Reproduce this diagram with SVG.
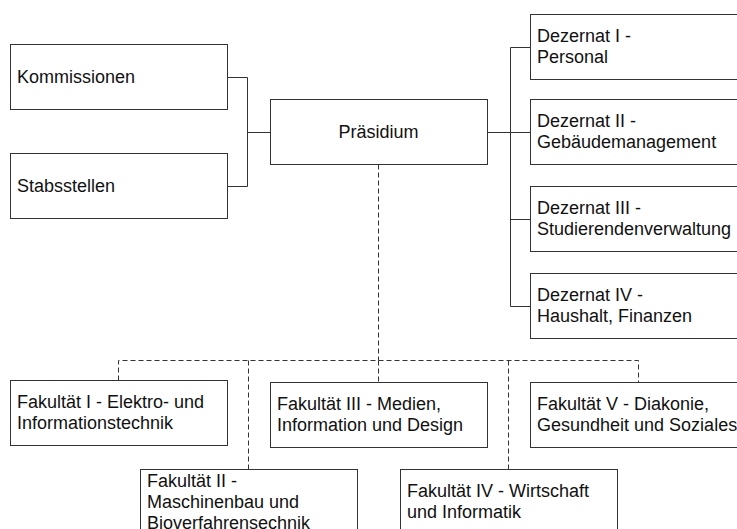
<svg xmlns="http://www.w3.org/2000/svg" width="737" height="529" viewBox="0 0 737 529">
<style>
.box{fill:#fff;stroke:#333;stroke-width:1}
.t{font-family:"Liberation Sans",Arial,sans-serif;font-size:18px;fill:#111}
.c{fill:none;stroke:#333;stroke-width:1}
.d{fill:none;stroke:#333;stroke-width:1;stroke-dasharray:5,3}
</style>
<rect width="737" height="529" fill="#fff"/>
<g id="connectors">
<path class="c" d="M227.5,77.5H247.5V186.5H227.5M247.5,132.5H270.5"/>
<path class="c" d="M487.5,132.5H530.5M530.5,47.5H510.5V306.5H530.5M510.5,219.5H530.5"/>
<path class="d" d="M378.5,164.5V360.5"/>
<path class="d" d="M118.5,380.5V360.5H638.5V382.5"/>
<path class="d" d="M248.5,360.5V469.5"/>
<path class="d" d="M378.5,360.5V382.5"/>
<path class="d" d="M508.5,360.5V469.5"/>
</g>
<g id="kommissionen"><rect class="box" x="10.5" y="44.5" width="217" height="65"/><text class="t" x="17" y="83">Kommissionen</text></g>
<g id="stabsstellen"><rect class="box" x="10.5" y="153.5" width="217" height="65"/><text class="t" x="17" y="192">Stabsstellen</text></g>
<g id="praesidium"><rect class="box" x="270.5" y="99.5" width="217" height="65"/><text class="t" x="378.5" y="138" text-anchor="middle">Präsidium</text></g>
<g id="dezernat1"><rect class="box" x="530.5" y="14.5" width="217" height="65"/><text class="t" x="537" y="42">Dezernat I -</text><text class="t" x="537" y="63">Personal</text></g>
<g id="dezernat2"><rect class="box" x="530.5" y="99.5" width="217" height="65"/><text class="t" x="537" y="127">Dezernat II -</text><text class="t" x="537" y="148">Gebäudemanagement</text></g>
<g id="dezernat3"><rect class="box" x="530.5" y="186.5" width="217" height="65"/><text class="t" x="537" y="214">Dezernat III -</text><text class="t" x="537" y="235">Studierendenverwaltung</text></g>
<g id="dezernat4"><rect class="box" x="530.5" y="273.5" width="217" height="65"/><text class="t" x="537" y="301">Dezernat IV -</text><text class="t" x="537" y="322">Haushalt, Finanzen</text></g>
<g id="fakultaet1"><rect class="box" x="10.5" y="380.5" width="217" height="65"/><text class="t" x="17" y="408">Fakultät I - Elektro- und</text><text class="t" x="17" y="429">Informationstechnik</text></g>
<g id="fakultaet3"><rect class="box" x="270.5" y="382.5" width="217" height="65"/><text class="t" x="277" y="410">Fakultät III - Medien,</text><text class="t" x="277" y="431">Information und Design</text></g>
<g id="fakultaet5"><rect class="box" x="530.5" y="382.5" width="217" height="65"/><text class="t" x="537" y="410">Fakultät V - Diakonie,</text><text class="t" x="537" y="431">Gesundheit und Soziales</text></g>
<g id="fakultaet2"><rect class="box" x="140.5" y="469.5" width="217" height="65"/><text class="t" x="147" y="487">Fakultät II -</text><text class="t" x="147" y="508">Maschinenbau und</text><text class="t" x="147" y="529">Bioverfahrensechnik</text></g>
<g id="fakultaet4"><rect class="box" x="400.5" y="469.5" width="217" height="65"/><text class="t" x="407" y="497">Fakultät IV - Wirtschaft</text><text class="t" x="407" y="518">und Informatik</text></g>
</svg>
